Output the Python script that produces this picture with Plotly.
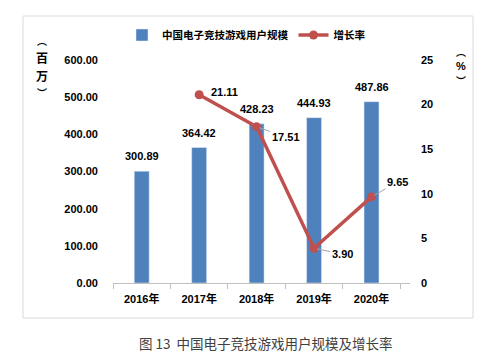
import plotly.graph_objects as go

years = ["2016年", "2017年", "2018年", "2019年", "2020年"]
users = [300.89, 364.42, 428.23, 444.93, 487.86]
growth_years = ["2017年", "2018年", "2019年", "2020年"]
growth = [21.11, 17.51, 3.90, 9.65]
left_ticks = [0, 100, 200, 300, 400, 500, 600]
right_ticks = [0, 5, 10, 15, 20, 25]
# label offsets (px) for growth-rate labels
label_dx = [25, 29, 28, 26]
label_dy = [-3, 10, 6, -15]
label_arrow = [False, True, True, True]

NUM_FONT = "Liberation Sans, Noto Sans CJK SC"
CJK_FONT = "Noto Sans CJK SC"
BAR_C = "#4F81BD"
LINE_C = "#C0504D"

# page body has an 8px default margin; compensate so the picture lines up
OFF = 8
W, H = 483, 364
L, R, T, B = 113 - OFF, 73 + OFF, 60 - OFF, 81 + OFF
pw, ph = W - L - R, H - T - B

def px(xp):
    return (xp - OFF - L) / pw

def py(yp):
    return 1 - (yp - OFF - T) / ph

fig = go.Figure()
fig.add_trace(go.Bar(
    x=years, y=users, name="<b>中国电子竞技游戏用户规模</b>",
    marker=dict(color=BAR_C), width=0.26,
))
fig.add_trace(go.Scatter(
    x=growth_years, y=growth, name="<b>增长率</b>", yaxis="y2",
    mode="lines+markers",
    line=dict(color=LINE_C, width=3.5),
    marker=dict(color=LINE_C, size=9),
    cliponaxis=False,
))

for x, y in zip(years, users):
    fig.add_annotation(
        x=x, y=y, xref="x", yref="y", text=f"<b>{y:.2f}</b>",
        showarrow=False, yanchor="bottom", yshift=7,
        font=dict(family=NUM_FONT, size=11, color="#000000"),
    )

for x, y, dx, dy, arr in zip(growth_years, growth, label_dx, label_dy, label_arrow):
    fig.add_annotation(
        x=x, y=y, xref="x", yref="y2", text=f"<b>{y:.2f}</b>",
        showarrow=arr, ax=dx, ay=dy, arrowhead=0, arrowwidth=1,
        arrowcolor="#A6A6A6", standoff=3,
        xshift=0 if arr else dx, yshift=0 if arr else -dy,
        font=dict(family=NUM_FONT, size=11, color="#000000"),
    )

fig.add_shape(type="rect", xref="paper", yref="paper",
              x0=px(23), x1=px(473), y0=py(318), y1=py(16),
              line=dict(color="#D9D9D9", width=1), layer="below")

# vertical axis titles, one glyph per annotation
for ch, yy, sz in [("︵", 41, 10), ("百", 58, 12), ("万", 75, 12), ("︶", 92, 10)]:
    fig.add_annotation(xref="paper", yref="paper", x=px(42), y=py(yy),
                       text=f"<b>{ch}</b>", showarrow=False, borderpad=0,
                       font=dict(family=CJK_FONT, size=sz, color="#000000"),
                       xanchor="center", yanchor="middle")
for ch, yy, sz in [("︵", 52, 10), ("%", 66, 11), ("︶", 80, 10)]:
    fig.add_annotation(xref="paper", yref="paper", x=px(461), y=py(yy),
                       text=f"<b>{ch}</b>", showarrow=False, borderpad=0,
                       font=dict(family=CJK_FONT if ch != "%" else NUM_FONT,
                                 size=sz, color="#000000"),
                       xanchor="center", yanchor="middle")

fig.add_annotation(xref="paper", yref="paper", x=px(266), y=py(343),
                   text="图 13  中国电子竞技游戏用户规模及增长率", showarrow=False,
                   font=dict(family=CJK_FONT, size=13.5, color="#404040"),
                   xanchor="center", yanchor="middle")

fig.update_layout(
    width=W, height=H,
    margin=dict(l=L, r=R, t=T, b=B, pad=0, autoexpand=False),
    paper_bgcolor="white", plot_bgcolor="white",
    showlegend=True,
    legend=dict(orientation="h", x=px(122), y=py(35), xanchor="left", yanchor="middle",
                font=dict(family=CJK_FONT, size=10.5, color="#000000"),
                itemwidth=30, traceorder="normal", bgcolor="rgba(0,0,0,0)"),
    xaxis=dict(
        type="category", showline=True, linecolor="#BFBFBF", linewidth=1,
        ticks="outside", tickson="boundaries", ticklen=5, tickcolor="#BFBFBF",
        showgrid=False, tickfont=dict(family=NUM_FONT, size=11, color="#000000"),
        tickvals=years, ticktext=[f"<b>{y}</b>" for y in years],
        ticklabelstandoff=6,
    ),
    yaxis=dict(
        range=[0, 600], tickvals=left_ticks,
        ticktext=[f"<b>{v:.2f}</b>" for v in left_ticks],
        showgrid=False, zeroline=False, showline=False,
        tickfont=dict(family=NUM_FONT, size=11, color="#000000"),
        ticklabelstandoff=14,
    ),
    yaxis2=dict(
        range=[0, 25], tickvals=right_ticks,
        ticktext=[f"<b>{v}</b>" for v in right_ticks],
        overlaying="y", side="right",
        showgrid=False, zeroline=False, showline=False,
        tickfont=dict(family=NUM_FONT, size=11, color="#000000"),
        ticklabelstandoff=10,
    ),
    font=dict(family=NUM_FONT, size=11, color="#000000"),
)

fig.write_html("out.html")
